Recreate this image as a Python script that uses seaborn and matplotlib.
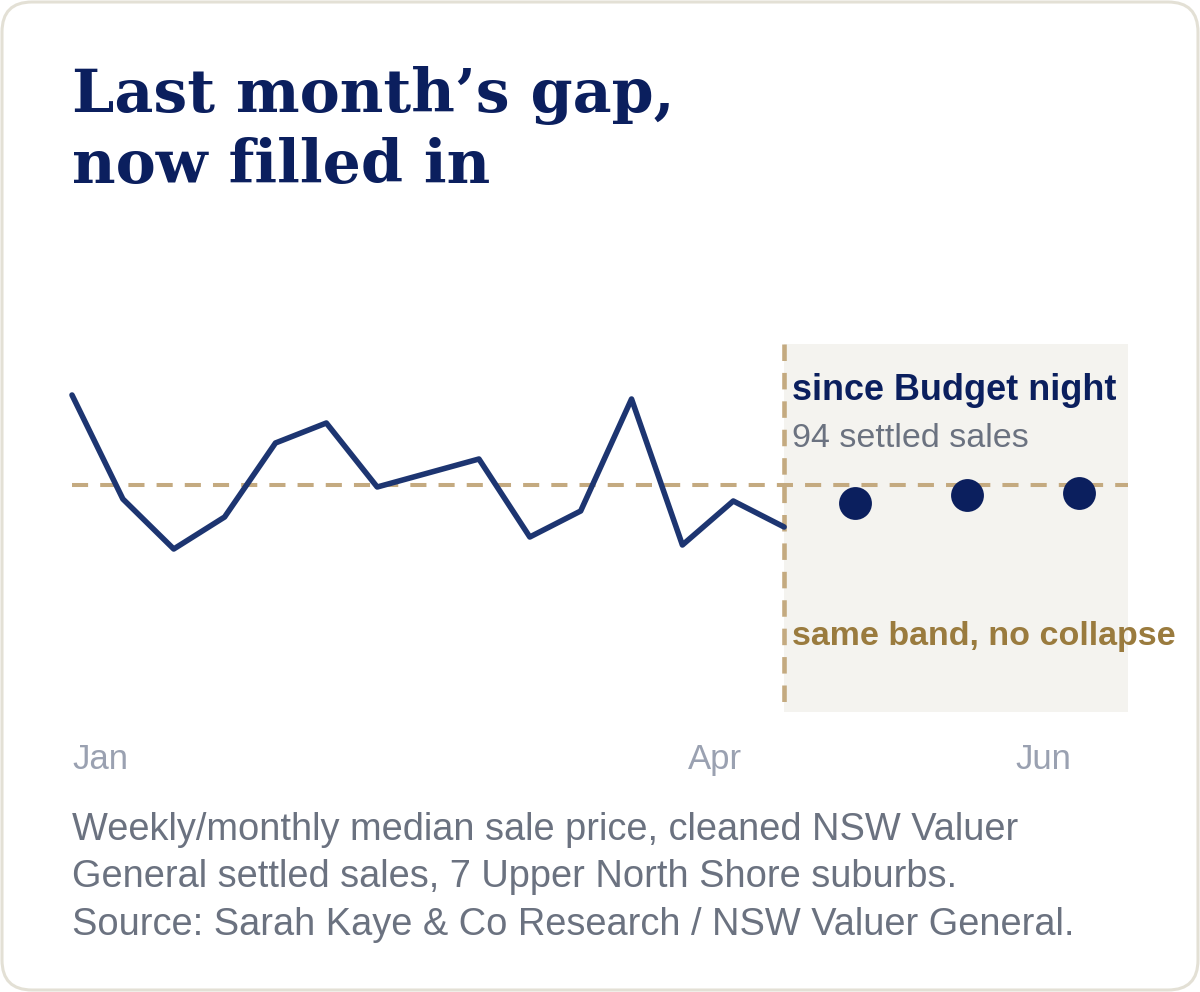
import matplotlib
matplotlib.use("Agg")
import matplotlib.pyplot as plt
from matplotlib.patches import FancyBboxPatch
import seaborn as sns
import pandas as pd

# ---- data ----
weeks = list(range(15))
weekly_median = [2.445, 2.393, 2.368, 2.384, 2.421, 2.431, 2.399, 2.406,
                 2.413, 2.374, 2.387, 2.443, 2.370, 2.392, 2.379]
month_pos = [15.4, 17.6, 19.8]
monthly_median = [2.391, 2.395, 2.396]
reference_median = 2.40
budget_week = 14
tick_pos = [0, 12.64, 19.1]
tick_labels = ["Jan", "Apr", "Jun"]

title_lines = ["Last month\u2019s gap,", "now filled in"]
note_lines = [
    "Weekly/monthly median sale price, cleaned NSW Valuer",
    "General settled sales, 7 Upper North Shore suburbs.",
    "Source: Sarah Kaye & Co Research / NSW Valuer General.",
]

NAVY = "#0b1f5e"
LINE = "#1d3571"
TAN = "#c4aa80"
BAND = "#f4f3ef"
GOLD = "#9a7b3e"
GRAY = "#6b7280"
LIGHT = "#9aa1b1"

sns.set_theme(style="white")
plt.rcParams["font.family"] = ["Liberation Sans", "DejaVu Sans"]

W, H = 1200, 992
fig = plt.figure(figsize=(W / 100, H / 100), dpi=100)
fig.patch.set_facecolor("white")

border = FancyBboxPatch((2 / W, 2 / H), 1 - 4 / W, 1 - 4 / H,
                        boxstyle="round,pad=0,rounding_size=0.025",
                        transform=fig.transFigure, facecolor="white",
                        edgecolor="#e3e0d5", linewidth=2.2, zorder=-5,
                        mutation_aspect=W / H)
fig.patches.append(border)

ax = fig.add_axes([72 / W, (H - 712) / H, 1056 / W, 368 / H])
ax.set_zorder(2)
ax.set_facecolor("none")
ax.set_xlim(0, 20.76)
ax.set_ylim(2.2865, 2.4705)

ax.axvspan(budget_week, 20.76, color=BAND, lw=0, zorder=0)
ax.axhline(reference_median, color=TAN, lw=2.9, ls=(0, (4, 3)), zorder=1)
ax.plot([budget_week, budget_week], [1, 0], transform=ax.get_xaxis_transform(),
        color=TAN, lw=3.3, ls=(0, (3.6, 2.6)), zorder=1, clip_on=False)

wdf = pd.DataFrame({"week": weeks, "median": weekly_median})
sns.lineplot(data=wdf, x="week", y="median", ax=ax, color=LINE, lw=4.0,
             zorder=3, clip_on=False)
mdf = pd.DataFrame({"pos": month_pos, "median": monthly_median})
sns.scatterplot(data=mdf, x="pos", y="median", ax=ax, color=NAVY, s=560,
                linewidth=0, zorder=4)

for s in ax.spines.values():
    s.set_visible(False)
ax.set_yticks([])
ax.set_xlabel("")
ax.set_ylabel("")
ax.set_xticks(tick_pos)
ax.set_xticklabels(tick_labels, fontsize=25, color=LIGHT)
ax.tick_params(axis="x", length=0, pad=22.5)
ax.get_xticklabels()[0].set_horizontalalignment("left")

ax.annotate("since Budget night", xy=(budget_week, 0.848),
            xycoords=("data", "axes fraction"), xytext=(8, 0),
            textcoords="offset pixels", fontsize=25.9, fontweight="bold",
            color=NAVY, va="baseline", ha="left")
ax.annotate("94 settled sales", xy=(budget_week, 0.720),
            xycoords=("data", "axes fraction"), xytext=(8, 0),
            textcoords="offset pixels", fontsize=24.5, color=GRAY,
            va="baseline", ha="left")
ax.annotate("same band, no collapse", xy=(budget_week, 0.182),
            xycoords=("data", "axes fraction"), xytext=(8, 0),
            textcoords="offset pixels", fontsize=24.5, fontweight="bold",
            color=GOLD, va="baseline", ha="left", annotation_clip=False)

for line, base in zip(title_lines, [112, 183]):
    fig.text(72 / W, (H - base) / H, line, family="DejaVu Serif",
             fontweight="bold", fontsize=43.3, color=NAVY, va="baseline")

for line, base in zip(note_lines, [840, 887, 935]):
    fig.text(72 / W, (H - base) / H, line, fontsize=27.4, color=GRAY,
             va="baseline")

fig.savefig("out.png", dpi=100, facecolor="white")
